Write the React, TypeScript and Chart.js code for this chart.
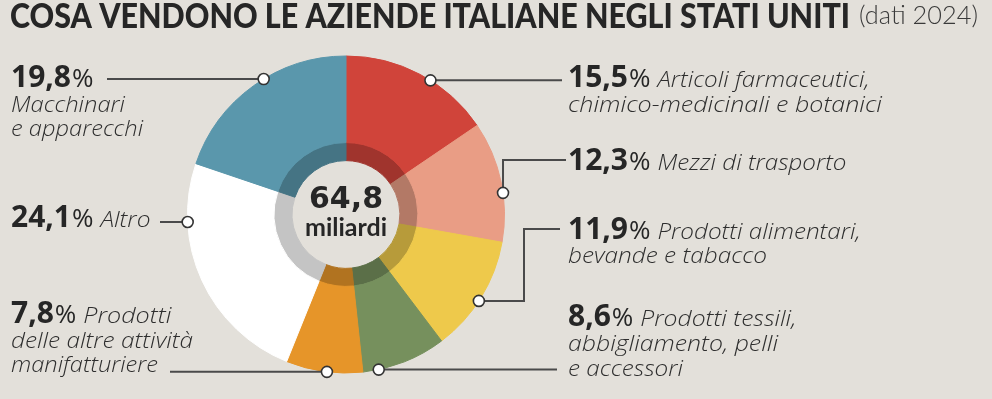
import React, { useEffect, useRef } from "react";
import { Chart, registerables } from "chart.js";

Chart.register(...registerables);

// ---------- DATA ----------
const TITLE = "COSA VENDONO LE AZIENDE ITALIANE NEGLI STATI UNITI";
const SUBTITLE = "(dati 2024)";
const TOTAL_VALUE = "64,8";
const TOTAL_UNIT = "miliardi";

const categories = [
  "Articoli farmaceutici, chimico-medicinali e botanici",
  "Mezzi di trasporto",
  "Prodotti alimentari, bevande e tabacco",
  "Prodotti tessili, abbigliamento, pelli e accessori",
  "Prodotti delle altre attività manifatturiere",
  "Altro",
  "Macchinari e apparecchi",
];
const shares = [15.5, 12.3, 11.9, 8.6, 7.8, 24.1, 19.8];
const labelLines = [
  ["Articoli farmaceutici,", "chimico-medicinali e botanici"],
  ["Mezzi di trasporto"],
  ["Prodotti alimentari,", "bevande e tabacco"],
  ["Prodotti tessili,", "abbigliamento, pelli", "e accessori"],
  ["Prodotti", "delle altre attività", "manifatturiere"],
  ["Altro"],
  ["", "Macchinari", "e apparecchi"],
];
const colors = ["#d0443a", "#e99d85", "#eec94b", "#76905d", "#e69529", "#ffffff", "#5a97ac"];

// ---------- STYLE / LAYOUT ----------
const BG = "#e3e0da";
const TEXT = "#262626";
const LINE = "#4a4a4a";

type Step = ["h" | "v", number];
const layout: { x: number; y: number; lh: number; frac: number; path: Step[]; widths: number[] }[] = [
  { x: 568, y: 87, lh: 25, frac: 0.577, path: [["h", 562]], widths: [212, 314] },
  { x: 568, y: 170, lh: 25, frac: 0.595, path: [["v", 160], ["h", 566]], widths: [189] },
  { x: 568, y: 239, lh: 24, frac: 0.536, path: [["h", 524], ["v", 229], ["h", 560]], widths: [203, 199] },
  { x: 568, y: 326, lh: 25, frac: 0.813, path: [["h", 557]], widths: [156, 210, 115] },
  { x: 11, y: 323, lh: 24.5, frac: 0.464, path: [["h", 170]], widths: [88, 182, 147] },
  { x: 11, y: 227, lh: 0, frac: 0.753, path: [["h", 160]], widths: [50] },
  { x: 11, y: 87, lh: 24.5, frac: 0.561, path: [["h", 107]], widths: [0, 114, 132] },
];

const NUM_FONT = "bold 30px 'Open Sans'";
const PCT_FONT = "26px 'Open Sans'";
const LABEL_FONT = "italic 300 22px 'Open Sans'";

function shade(hex: string, f: number) {
  const n = parseInt(hex.slice(1), 16);
  const r = Math.round(((n >> 16) & 255) * f);
  const g = Math.round(((n >> 8) & 255) * f);
  const b = Math.round((n & 255) * f);
  return `rgb(${r},${g},${b})`;
}

function fitText(ctx: CanvasRenderingContext2D, text: string, x: number, y: number, font: string, width?: number) {
  ctx.font = font;
  const w = ctx.measureText(text).width;
  if (!width || w === 0) {
    ctx.fillText(text, x, y);
    return w;
  }
  ctx.save();
  ctx.translate(x, y);
  ctx.scale(width / w, 1);
  ctx.fillText(text, 0, 0);
  ctx.restore();
  return width;
}

const fmt = (v: number) => v.toFixed(1).replace(".", ",");

const overlayPlugin = {
  id: "overlay",
  beforeDraw(chart: any) {
    const ctx = chart.ctx;
    ctx.save();
    ctx.fillStyle = BG;
    ctx.fillRect(0, 0, chart.width, chart.height);
    ctx.restore();
  },
  afterDraw(chart: any) {
    const ctx: CanvasRenderingContext2D = chart.ctx;
    const arcs = chart.getDatasetMeta(0).data;
    ctx.save();
    ctx.textBaseline = "alphabetic";
    ctx.textAlign = "left";
    ctx.fillStyle = TEXT;

    // Title
    fitText(ctx, TITLE, 10, 28, "900 35px Lato", 840);
    ctx.fillStyle = "#3a3a3a";
    fitText(ctx, SUBTITLE, 859, 24, "300 26px Lato", 119);

    // Center text
    const cx = arcs[0].x;
    const cy = arcs[0].y;
    ctx.fillStyle = TEXT;
    ctx.textAlign = "center";
    ctx.font = "bold 30px 'DejaVu Sans'";
    ctx.fillText(TOTAL_VALUE, cx, cy - 7);
    ctx.font = "bold 25px Lato";
    ctx.fillText(TOTAL_UNIT, cx, cy + 21);
    ctx.textAlign = "left";

    // Leaders + labels
    arcs.forEach((arc: any, i: number) => {
      const L = layout[i];
      const p = arc.getProps(["startAngle", "endAngle", "outerRadius", "x", "y"], true);
      const ang = p.startAngle + L.frac * (p.endAngle - p.startAngle);
      const r = p.outerRadius;
      const dx = p.x + r * Math.cos(ang);
      const dy = p.y + r * Math.sin(ang);
      ctx.strokeStyle = LINE;
      ctx.lineWidth = 2;
      ctx.beginPath();
      let px = dx, py = dy;
      ctx.moveTo(px, py);
      L.path.forEach(([k, v]) => {
        if (k === "h") px = v; else py = v;
        ctx.lineTo(px, py);
      });
      ctx.stroke();
      ctx.beginPath();
      ctx.arc(dx, dy, 5.5, 0, Math.PI * 2);
      ctx.fillStyle = "#ffffff";
      ctx.fill();
      ctx.lineWidth = 1.6;
      ctx.strokeStyle = "#333333";
      ctx.stroke();

      // text
      ctx.fillStyle = TEXT;
      let x = L.x;
      x += fitText(ctx, fmt(shares[i]), x, L.y, NUM_FONT);
      x += 1;
      x += fitText(ctx, "%", x, L.y, PCT_FONT);
      ctx.fillStyle = "#2e2e2e";
      labelLines[i].forEach((line, j) => {
        if (!line) return;
        const lx = j === 0 ? x + 7 : L.x;
        fitText(ctx, line, lx, L.y + j * L.lh, LABEL_FONT, L.widths[j] || undefined);
      });
    });
    ctx.restore();
  },
};

export default function App() {
  const ref = useRef<HTMLCanvasElement>(null);
  useEffect(() => {
    document.body.style.margin = "0";
    document.body.style.background = BG;
    const canvas = ref.current!;
    const chart = new Chart(canvas, {
      type: "doughnut",
      data: {
        labels: categories,
        datasets: [
          { data: shares, backgroundColor: colors, borderColor: colors, borderWidth: 1, weight: 86.5 } as any,
          {
            data: shares,
            backgroundColor: colors.map((c) => shade(c, 0.77)),
            borderColor: colors.map((c) => shade(c, 0.77)),
            borderWidth: 1,
            weight: 18,
          } as any,
        ],
      },
      options: {
        responsive: false,
        maintainAspectRatio: false,
        animation: false,
        devicePixelRatio: 1,
        cutout: "34%",
        layout: { padding: { left: 187, right: 487, top: 55.5, bottom: 25.5 } },
        plugins: { legend: { display: false }, tooltip: { enabled: false }, title: { display: false } },
        events: [],
      },
      plugins: [overlayPlugin],
    });
    return () => chart.destroy();
  }, []);
  return <canvas ref={ref} width={992} height={399} style={{ display: "block" }} />;
}
